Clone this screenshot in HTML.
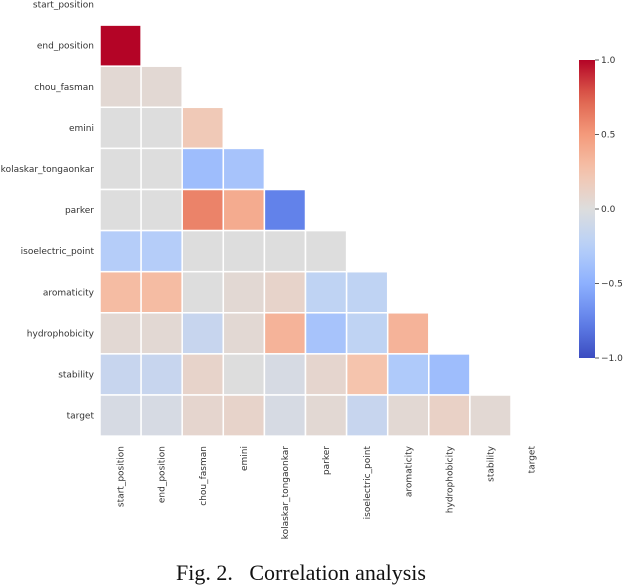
<!DOCTYPE html>
<html><head><meta charset="utf-8"><style>
html,body{margin:0;padding:0;background:#fff;}
svg{display:block;}
.lbl{font-family:"DejaVu Sans","Liberation Sans",sans-serif;font-size:9px;fill:#333;}
</style></head><body>
<svg id="chart" width="624" height="588" viewBox="0 0 624 588" xmlns="http://www.w3.org/2000/svg">
<g id="cells"></g>
<g id="ylabels"></g>
<g id="xlabels"></g>
<g id="cbar"></g>
<text x="301" y="580" text-anchor="middle" font-family="'Liberation Serif',serif" font-size="22" fill="#111" xml:space="preserve">Fig. 2.   Correlation analysis</text>
</svg>
<script>
const variables = ["start_position","end_position","chou_fasman","emini","kolaskar_tongaonkar","parker","isoelectric_point","aromaticity","hydrophobicity","stability","target"];
const correlations = [
  [],
  [1.0],
  [0.05,0.05],
  [0,0,0.2],
  [0,0,-0.4,-0.35],
  [0,0,0.6,0.4,-0.75],
  [-0.27,-0.27,0,0,0,0],
  [0.3,0.3,0,0.05,0.1,-0.2,-0.2],
  [0.05,0.05,-0.15,0.05,0.35,-0.35,-0.2,0.35],
  [-0.15,-0.15,0.1,0,-0.05,0.08,0.25,-0.3,-0.4],
  [-0.05,-0.05,0.08,0.1,-0.05,0.05,-0.15,0.05,0.12,0.05]
];
const colorbarTicks = [1.0,0.5,0.0,-0.5,-1.0];
const colorbarTickLabels = ["1.0","0.5","0.0","\u22120.5","\u22121.0"];

const NS="http://www.w3.org/2000/svg";
const gx0=100, gy0=-16, cell=41.1;
function xPos(i){return gx0+i*cell;}
function yPos(i){return gy0+i*cell;}
const stops=[[-1,[59,76,192]],[-0.75,[98,130,234]],[-0.5,[141,176,254]],[-0.25,[184,208,249]],[0,[221,221,221]],[0.25,[245,196,173]],[0.5,[244,154,123]],[0.75,[222,96,77]],[1,[180,4,38]]];
function cmap(v){
  v=Math.max(-1,Math.min(1,v));
  for(let k=0;k<stops.length-1;k++){
    const a=stops[k],b=stops[k+1];
    if(v<=b[0]){const t=(v-a[0])/(b[0]-a[0]);
      const c=a[1].map((x,j)=>Math.round(x+(b[1][j]-x)*t));
      return "rgb("+c.join(",")+")";}
  }
  return "rgb(180,4,38)";
}
function mk(tag,attrs,parent){const e=document.createElementNS(NS,tag);for(const k in attrs)e.setAttribute(k,attrs[k]);parent.appendChild(e);return e;}

const cellsG=document.getElementById("cells");
correlations.forEach((row,r)=>{
  row.forEach((v,c)=>{
    const rect=mk("rect",{x:xPos(c),y:yPos(r),width:cell,height:cell,fill:cmap(v),stroke:"#fff","stroke-width":1.5},cellsG);
    
    
  });
});
const yl=document.getElementById("ylabels");
variables.forEach((n,i)=>{
  const t=mk("text",{x:94,y:yPos(i)+cell/2+3,"text-anchor":"end",class:"lbl"},yl);
  t.textContent=n;
  
  
});
const xl=document.getElementById("xlabels");
variables.forEach((n,i)=>{
  const cx=xPos(i)+cell/2+3;
  const t=mk("text",{x:0,y:0,"text-anchor":"end",class:"lbl",transform:"translate("+cx+",446) rotate(-90)"},xl);
  t.textContent=n;
  
  
});
const cb=document.getElementById("cbar");
const cbx=579,cbw=16,cbTop=60,cbBot=358;
function cbY(v){return cbTop+(1-v)/2*(cbBot-cbTop);}
const defs=mk("defs",{},cb);
const grad=mk("linearGradient",{id:"cg",x1:0,y1:1,x2:0,y2:0},defs);
for(let k=0;k<=20;k++){const v=-1+k*0.1;mk("stop",{offset:(k/20),"stop-color":cmap(v)},grad);}
const bar=mk("rect",{x:cbx,y:cbTop,width:cbw,height:cbBot-cbTop,fill:"url(#cg)"},cb);


colorbarTicks.forEach((v,i)=>{
  const y=cbY(v);
  mk("line",{x1:cbx+cbw,x2:cbx+cbw+4,y1:y,y2:y,stroke:"#333","stroke-width":0.8},cb);
  const t=mk("text",{x:cbx+cbw+6,y:y+3,class:"lbl"},cb);
  t.textContent=colorbarTickLabels[i];
  
  
});
</script>
</body></html>
